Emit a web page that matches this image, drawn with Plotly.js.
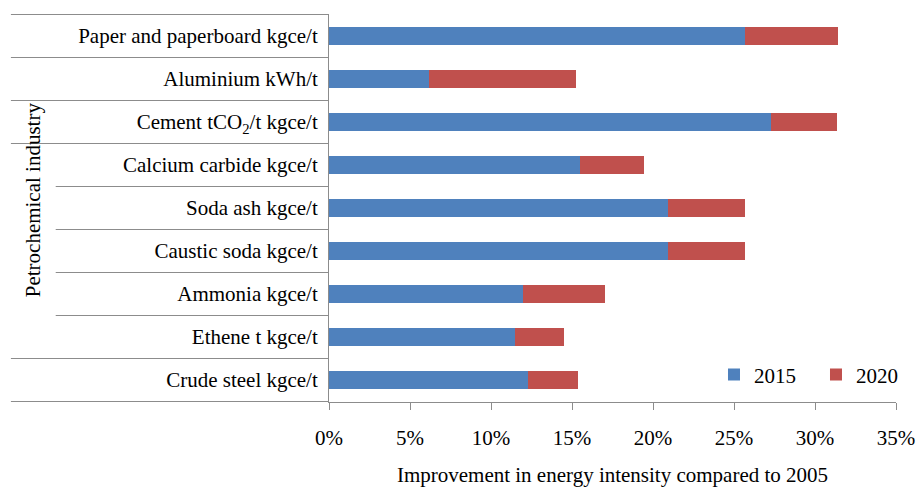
<!DOCTYPE html>
<html>
<head>
<meta charset="utf-8">
<script src="https://cdn.plot.ly/plotly-3.0.1.min.js"></script>
<style>html,body{margin:0;padding:0;background:#fff;}#chart{width:916px;height:487px;}</style>
</head>
<body>
<div id="chart"></div>
<script>
// Categories listed bottom to top
const categories = [
  "Crude steel kgce/t",
  "Ethene t kgce/t",
  "Ammonia kgce/t",
  "Caustic soda kgce/t",
  "Soda ash kgce/t",
  "Calcium carbide kgce/t",
  "Cement tCO<sub>2</sub>/t kgce/t",
  "Aluminium kWh/t",
  "Paper and paperboard kgce/t"
];
const values2015 = [12.3, 11.5, 12.0, 20.95, 20.95, 15.5, 27.3, 6.2, 25.7];
const values2020 = [3.05, 3.0, 5.05, 4.75, 4.75, 3.95, 4.05, 9.05, 5.75];
const seriesNames = ["2015", "2020"];
const groupLabel = "Petrochemical industry";
const groupStart = 1, groupEnd = 5; // indices of categories in the petrochemical group
const xTickVals = [0, 5, 10, 15, 20, 25, 30, 35];
const xTitle = "Improvement in energy intensity compared to 2005";

const FONT = '"Liberation Serif", "Times New Roman", Times, serif';
const FS = 21;
const GRID = "#8c8c8c";

const traces = [
  {type: "bar", orientation: "h", name: seriesNames[0], y: categories, x: values2015,
   marker: {color: "#4F81BD"}, width: 0.42},
  {type: "bar", orientation: "h", name: seriesNames[1], y: categories, x: values2020,
   marker: {color: "#C0504D"}, width: 0.42}
];

// divider lines between categories (multi-level category axis look)
const shapes = [];
for (let b = -0.5; b <= categories.length - 0.5; b += 1) {
  const inner = (b > groupStart - 0.5 && b < groupEnd + 0.5);
  shapes.push({type: "line", xref: "paper", yref: "y",
    x0: inner ? -0.482 : -0.561, x1: 0, y0: b, y1: b,
    line: {color: GRID, width: 1}});
}

const layout = {
  width: 916, height: 487,
  margin: {l: 329, r: 20, t: 14, b: 85, autoexpand: false},
  paper_bgcolor: "#fff", plot_bgcolor: "#fff",
  barmode: "stack",
  font: {family: FONT, size: FS, color: "#000"},
  showlegend: true,
  legend: {orientation: "h", x: 0.679, xanchor: "left", y: 0.07, yanchor: "middle",
    font: {family: FONT, size: FS, color: "#000"}, bgcolor: "rgba(0,0,0,0)",
    entrywidth: 57, entrywidthmode: "pixels", traceorder: "normal"},
  xaxis: {range: [0, 35], tickvals: xTickVals, ticktext: xTickVals.map(v => v + "%"),
    showgrid: false, zeroline: false, showline: true, linecolor: GRID, linewidth: 1,
    ticks: "outside", ticklen: 7, tickcolor: GRID, ticklabelstandoff: 10,
    tickfont: {family: FONT, size: FS, color: "#000"},
    title: {text: xTitle, font: {family: FONT, size: FS, color: "#000"}, standoff: 19},
    automargin: false, fixedrange: true},
  yaxis: {type: "category", categoryorder: "array", categoryarray: categories,
    showgrid: false, zeroline: false, showline: true, linecolor: GRID, linewidth: 1,
    ticks: "", ticklabelstandoff: 6, automargin: false,
    tickfont: {family: FONT, size: FS, color: "#000"}, fixedrange: true},
  shapes: shapes,
  annotations: [{text: groupLabel, xref: "paper", yref: "paper", x: -0.522, y: 0.52,
    textangle: -90, showarrow: false, xanchor: "center", yanchor: "middle",
    font: {family: FONT, size: FS, color: "#000"}}]
};

Plotly.newPlot("chart", traces, layout, {displayModeBar: false, staticPlot: true});
</script>
</body>
</html>
